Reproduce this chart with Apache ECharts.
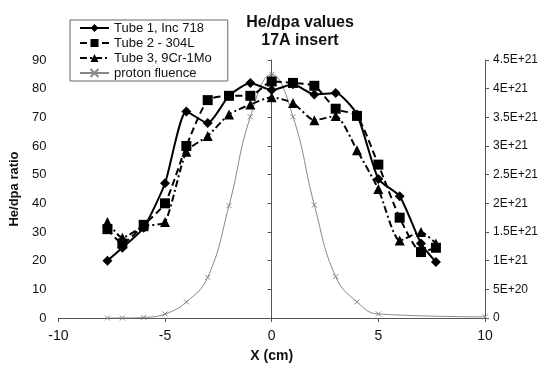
<!DOCTYPE html>
<html>
<head>
<meta charset="utf-8">
<script src="https://cdn.jsdelivr.net/npm/echarts@6/dist/echarts.min.js"></script>
<style>
html,body{margin:0;padding:0;background:#fff;}
#chart{width:542px;height:368px;}
</style>
</head>
<body>
<div id="chart"></div>
<script>
// ---- data ----
var tubeX   = [-7.7, -7, -6, -5, -4, -3, -2, -1, 0, 1, 2, 3, 4, 5, 6, 7, 7.7];
var tube1   = [20, 24.5, 31.5, 47, 72, 68, 77.5, 82, 79.5, 81.5, 78, 78.5, 71, 48.5, 42.5, 26, 19.5];
var tube2   = [31, 26, 32.5, 40, 60, 76, 77.5, 77.5, 82.5, 82, 81, 73, 70.5, 53.5, 35, 23, 24.5];
var tube3   = [33.5, 28, 32, 33.5, 58, 63.5, 71, 74.5, 77, 75, 69, 70.5, 58.5, 45, 27, 30, 26];
var fluX    = [-7.7, -7, -6, -5, -4, -3, -2, -1, 0, 1, 2, 3, 4, 5, 10];
var fluence = [0, 0, 0.01e21, 0.07e21, 0.28e21, 0.71e21, 1.96e21, 3.51e21, 4.25e21, 3.51e21, 1.97e21, 0.72e21, 0.28e21, 0.07e21, 0.02e21];
var seriesNames = ['Tube 1, Inc 718', 'Tube 2 - 304L', 'Tube 3, 9Cr-1Mo', 'proton fluence'];
var titleText = 'He/dpa values\n17A insert';
var xName = 'X (cm)';
var yName = 'He/dpa ratio';

function pairs(xs, ys) { return xs.map(function (x, i) { return [x, ys[i]]; }); }
function expLabel(v) {
  if (v === 0) return '0';
  var s = v.toExponential(1).replace('.0e', 'e').toUpperCase();
  return s;
}

var FONT = 'Liberation Sans, Arial, sans-serif';
var AX = '#555';

var chart = echarts.init(document.getElementById('chart'), null, {renderer: 'canvas'});
chart.setOption({
  animation: false,
  backgroundColor: '#fff',
  textStyle: {fontFamily: FONT, color: '#111'},
  title: {
    text: titleText,
    left: 295, top: 9, textAlign: 'center',
    textStyle: {fontFamily: FONT, fontSize: 16, fontWeight: 'bold', lineHeight: 18, color: '#111'}
  },
  legend: {
    orient: 'vertical',
    left: 70, top: 20,
    padding: [1, 16, 1, 9],
    itemWidth: 29, itemHeight: 10, itemGap: 1,
    borderColor: '#666', borderWidth: 1,
    textStyle: {fontFamily: FONT, fontSize: 13, lineHeight: 14, color: '#111'},
    data: seriesNames
  },
  grid: {left: 55, right: 57, top: 60, bottom: 47, containLabel: false},
  xAxis: {
    type: 'value', min: -10, max: 10, interval: 5,
    name: xName, nameLocation: 'middle', nameGap: 31,
    nameTextStyle: {fontFamily: FONT, fontSize: 14, fontWeight: 'bold', color: '#111'},
    axisLine: {onZero: false, lineStyle: {color: AX, width: 1}},
    axisTick: {show: true, length: 4, lineStyle: {color: AX}},
    axisLabel: {fontFamily: FONT, fontSize: 14, color: '#111', margin: 11},
    splitLine: {show: false}
  },
  yAxis: [{
    type: 'value', min: 0, max: 90, interval: 10,
    name: yName, nameLocation: 'middle', nameGap: 33, nameRotate: 90,
    nameTextStyle: {fontFamily: FONT, fontSize: 13, fontWeight: 'bold', color: '#111'},
    axisLine: {show: true, lineStyle: {color: AX, width: 1}},
    axisTick: {show: true, length: 4, lineStyle: {color: AX}},
    axisLabel: {fontFamily: FONT, fontSize: 13, color: '#111', margin: 12},
    splitLine: {show: false}
  }, {
    type: 'value', min: 0, max: 4.5e21, interval: 0.5e21, position: 'right',
    axisLine: {show: true, lineStyle: {color: AX, width: 1}},
    axisTick: {show: true, length: 4, lineStyle: {color: AX}},
    axisLabel: {fontFamily: FONT, fontSize: 12, color: '#111', margin: 8, formatter: expLabel},
    splitLine: {show: false}
  }],
  series: [{
    name: seriesNames[0], type: 'line', yAxisIndex: 0,
    data: pairs(tubeX, tube1), smooth: 0.2,
    symbol: 'diamond', symbolSize: 10,
    lineStyle: {color: '#000', width: 2, type: 'solid'},
    itemStyle: {color: '#000'}, z: 5
  }, {
    name: seriesNames[1], type: 'line', yAxisIndex: 0,
    data: pairs(tubeX, tube2), smooth: 0.2,
    symbol: 'rect', symbolSize: 10,
    lineStyle: {color: '#000', width: 2, type: [7, 4]},
    itemStyle: {color: '#000'}, z: 4
  }, {
    name: seriesNames[2], type: 'line', yAxisIndex: 0,
    data: pairs(tubeX, tube3), smooth: 0.2,
    symbol: 'triangle', symbolSize: 10,
    lineStyle: {color: '#000', width: 2, type: [7, 3, 2, 3]},
    itemStyle: {color: '#000'}, z: 3
  }, {
    name: seriesNames[3], type: 'line', yAxisIndex: 1,
    data: pairs(fluX, fluence), smooth: 0.45,
    symbol: 'path://M0,0L10,10M10,0L0,10', symbolSize: 5,
    lineStyle: {color: '#888', width: 1},
    itemStyle: {color: 'none', borderColor: '#888', borderWidth: 1}, z: 2
  }]
});
</script>
</body>
</html>
